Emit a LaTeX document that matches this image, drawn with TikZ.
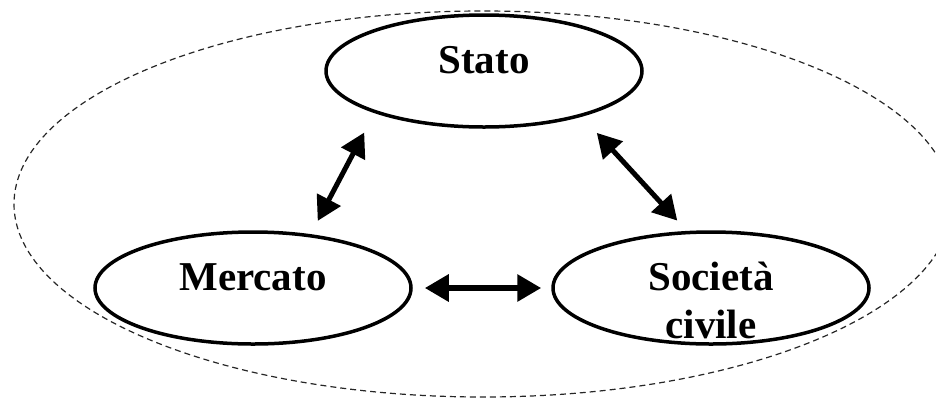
\documentclass[tikz,border=0pt]{standalone}
\usepackage{amsmath}
\usepackage{xcolor}
\usepackage{fontspec}
\setmainfont{Liberation Serif}
\usetikzlibrary{shapes.geometric,arrows.meta}

\begin{document}
\begin{tikzpicture}[x=1pt,y=1pt,yscale=-1,xscale=1,
  oval/.style={ellipse,draw,line width=3.5pt,minimum width=316pt,minimum height=112pt,inner sep=0pt},
  lbl/.style={anchor=base,inner sep=0pt,font=\fontsize{41}{48}\selectfont\bfseries,align=center},
  biarrow/.style={{Triangle[length=24pt,width=26pt]}-{Triangle[length=24pt,width=26pt]},line width=5pt}]
\useasboundingbox (0,0) rectangle (936,400);
\clip (0,0) rectangle (936,400);

%Shape: Ellipse [dashed frame]
\draw [color=black!85, line width=1.2pt, dash pattern=on 6pt off 4pt] (483,204) ellipse [x radius=469, y radius=193];

%Shape: Ellipse
\node [oval] (stato) at (484,71) {};
%Shape: Ellipse
\node [oval] (mercato) at (253,288) {};
%Shape: Ellipse
\node [oval] (societa) at (711,288) {};

% Text Node
\node [lbl] at ([yshift=2pt]stato.center) {Stato};
% Text Node
\node [lbl] at ([yshift=2pt]mercato.center) {Mercato};
% Text Node
\node [lbl] at ([yshift=50pt]societa.center) {Società\\civile};

%Straight Lines
\draw [biarrow, shorten <=22pt, shorten >=15pt] (stato.201) -- (mercato.43);
%Straight Lines
\draw [biarrow, shorten <=22pt, shorten >=14pt] (stato.335) -- (societa.113);
%Straight Lines
\draw [biarrow, line width=6pt, shorten <=12pt, shorten >=10pt] (mercato.east) -- (societa.west);
\end{tikzpicture}
\end{document}
